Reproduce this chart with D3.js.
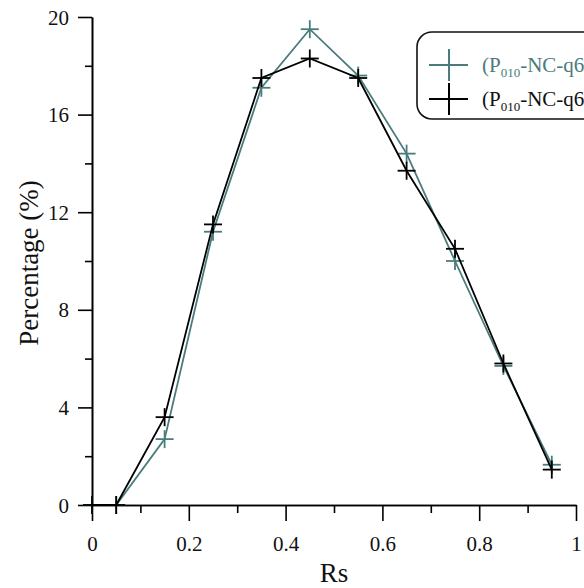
<!DOCTYPE html>
<html>
<head>
<meta charset="utf-8">
<script src="https://cdn.jsdelivr.net/npm/d3@7"></script>
<style>
  html, body { margin: 0; padding: 0; background: #fff; overflow: hidden; }
  svg { display: block; font-family: "Liberation Serif", "Times New Roman", serif; }
</style>
</head>
<body>
<svg id="chart" width="584" height="588"></svg>
<script>
// ---- data ----
const rsValues = [0, 0.05, 0.15, 0.25, 0.35, 0.45, 0.55, 0.65, 0.75, 0.85, 0.95];
const seriesTeal = [0, 0, 2.7, 11.2, 17.1, 19.5, 17.6, 14.4, 10.0, 5.7, 1.65];
const seriesBlack = [0, 0, 3.6, 11.5, 17.5, 18.3, 17.5, 13.7, 10.5, 5.8, 1.45];
const seriesNames = ["(P010-NC-q6)", "(P010-NC-q6)"];
const xTickValues = [0, 0.2, 0.4, 0.6, 0.8, 1];
const xTickLabels = ["0", "0.2", "0.4", "0.6", "0.8", "1"];
const yTickValues = [0, 4, 8, 12, 16, 20];
const yTickLabels = ["0", "4", "8", "12", "16", "20"];
const xMinorTicks = [0.1, 0.3, 0.5, 0.7, 0.9];
const yMinorTicks = [2, 6, 10, 14, 18];

// ---- layout ----
const svg = d3.select("#chart");
const pLeft = 92, pRight = 576, pTop = 17, pBottom = 505;
const x = d3.scaleLinear().domain([0, 1]).range([pLeft, pRight]);
const y = d3.scaleLinear().domain([0, 20]).range([pBottom, pTop]);
const colors = ["#4a7c7d", "#000000"];
const tickFont = 21;

// axes
const xAxis = d3.axisBottom(x).tickValues(xTickValues)
  .tickFormat((d, i) => xTickLabels[i]).tickSize(16).tickPadding(10).tickSizeOuter(0);
const xMinor = d3.axisBottom(x).tickValues(xMinorTicks).tickFormat("").tickSize(8).tickSizeOuter(0);
const yAxis = d3.axisLeft(y).tickValues(yTickValues)
  .tickFormat((d, i) => yTickLabels[i]).tickSize(14).tickPadding(9).tickSizeOuter(0);
const yMinor = d3.axisLeft(y).tickValues(yMinorTicks).tickFormat("").tickSize(7).tickSizeOuter(0);

function styleAxis(g) {
  g.selectAll("path.domain").attr("stroke", "#000").attr("stroke-width", 1.6);
  g.selectAll(".tick line").attr("stroke", "#000").attr("stroke-width", 1.6);
  g.selectAll(".tick text").attr("font-family", "Liberation Serif, serif")
    .attr("font-size", tickFont).attr("fill", "#111");
}

svg.append("g").attr("transform", `translate(0,${pBottom})`).call(xMinor).call(styleAxis);
svg.append("g").attr("transform", `translate(0,${pBottom})`).call(xAxis).call(styleAxis)
  .selectAll(".tick text").attr("dy", "0.95em");
svg.append("g").attr("transform", `translate(${pLeft},0)`).call(yMinor).call(styleAxis);
svg.append("g").attr("transform", `translate(${pLeft},0)`).call(yAxis).call(styleAxis)
  .selectAll(".tick text").attr("dy", "0.34em");

// axis titles
svg.append("text").attr("x", x(0.5)).attr("y", 582).attr("text-anchor", "middle")
  .attr("font-size", 27).attr("fill", "#111").text("Rs");
svg.append("text").attr("transform", `translate(38,${y(10) + 2}) rotate(-90)`)
  .attr("text-anchor", "middle").attr("font-size", 27).attr("fill", "#111").text("Percentage (%)");

// series
const allSeries = [seriesTeal, seriesBlack];
const line = d3.line().x((d, i) => x(rsValues[i])).y(d => y(d));
const markSize = 9;
allSeries.forEach((vals, k) => {
  const g = svg.append("g");
  g.append("path").datum(vals).attr("d", line).attr("fill", "none")
    .attr("stroke", colors[k]).attr("stroke-width", 1.8);
  const m = g.selectAll("g.m").data(vals).join("g")
    .attr("transform", (d, i) => `translate(${x(rsValues[i])},${y(d)})`);
  m.append("line").attr("x1", -markSize).attr("x2", markSize).attr("stroke", colors[k]).attr("stroke-width", 1.8);
  m.append("line").attr("y1", -markSize).attr("y2", markSize).attr("stroke", colors[k]).attr("stroke-width", 1.8);
});

// legend
const lg = svg.append("g");
lg.append("rect").attr("x", 417).attr("y", 32).attr("width", 260).attr("height", 87)
  .attr("rx", 15).attr("ry", 15).attr("fill", "#fff").attr("stroke", "#111").attr("stroke-width", 1.6);
const rowsY = [65, 99];
seriesNames.forEach((name, k) => {
  const cy = rowsY[k];
  lg.append("line").attr("x1", 429).attr("x2", 468).attr("y1", cy).attr("y2", cy)
    .attr("stroke", colors[k]).attr("stroke-width", 2);
  lg.append("line").attr("x1", 449).attr("x2", 449).attr("y1", cy - 16).attr("y2", cy + 16)
    .attr("stroke", colors[k]).attr("stroke-width", 2);
  const t = lg.append("text").attr("x", 482).attr("y", cy + 7).attr("font-size", 21)
    .attr("fill", k === 0 ? colors[0] : "#111");
  const m = name.match(/^\(P(\d+)(.*)$/);
  t.append("tspan").text("(P");
  t.append("tspan").attr("font-size", 13).attr("dy", 5).text(m[1]);
  t.append("tspan").attr("dy", -5).text(m[2]);
});
</script>
</body>
</html>
